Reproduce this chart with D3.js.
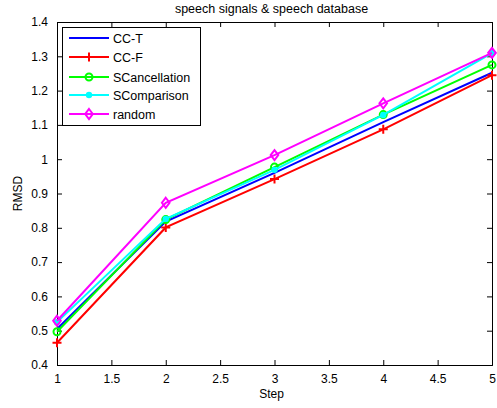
<!DOCTYPE html>
<html><head><meta charset="utf-8">
<script src="https://cdn.jsdelivr.net/npm/d3@7"></script>
<style>body{margin:0;background:#fff;} text{font-family:"Liberation Sans",Arial,sans-serif;}</style>
</head><body><svg id="c" width="497" height="408"></svg>
<script>
const steps = [1, 2, 3, 4, 5];
const ccT = [0.505, 0.818, 0.960, 1.108, 1.252];
const ccF = [0.465, 0.801, 0.942, 1.087, 1.245];
const sCancellation = [0.497, 0.824, 0.977, 1.130, 1.275];
const sComparison = [0.525, 0.826, 0.969, 1.129, 1.309];
const random = [0.529, 0.873, 1.012, 1.163, 1.310];
const xTicks = [1, 1.5, 2, 2.5, 3, 3.5, 4, 4.5, 5];
const yTicks = [0.4, 0.5, 0.6, 0.7, 0.8, 0.9, 1, 1.1, 1.2, 1.3, 1.4];
const seriesNames = ["CC-T", "CC-F", "SCancellation", "SComparison", "random"];
const colors = ["#0000ff", "#ff0000", "#00ff00", "#00ffff", "#ff00ff"];
const markers = ["none", "plus", "circle", "dot", "diamond"];
const series = [ccT, ccF, sCancellation, sComparison, random];

const svg = d3.select("#c");
const L = 57, R = 492, T = 22, B = 365;
const x = d3.scaleLinear().domain([1, 5]).range([L, R]);
const y = d3.scaleLinear().domain([0.4, 1.4]).range([B, T]);

svg.append("text").attr("x", (L + R) / 2 - 3).attr("y", 13).attr("text-anchor", "middle")
  .attr("font-size", 12.5).text("speech signals & speech database");

const fmt = d => String(d);
svg.append("g").attr("transform", `translate(0,${B})`)
  .call(d3.axisBottom(x).tickValues(xTicks).tickSize(-5).tickPadding(9).tickFormat(fmt));
svg.append("g").attr("transform", `translate(0,${T})`)
  .call(d3.axisTop(x).tickValues(xTicks).tickSize(-5).tickFormat(""));
svg.append("g").attr("transform", `translate(${L},0)`)
  .call(d3.axisLeft(y).tickValues(yTicks).tickSize(-5).tickPadding(9).tickFormat(fmt));
svg.append("g").attr("transform", `translate(${R},0)`)
  .call(d3.axisRight(y).tickValues(yTicks).tickSize(-5).tickFormat(""));
svg.selectAll(".domain").attr("stroke", "#000");
svg.selectAll(".tick line").attr("stroke", "#000");
svg.selectAll(".tick text").attr("font-size", 12).attr("fill", "#000")
  .style("font-family", "Liberation Sans, Arial, sans-serif");

svg.append("text").attr("x", (L + R) / 2 - 3).attr("y", 398).attr("text-anchor", "middle")
  .attr("font-size", 12).text("Step");
svg.append("text").attr("transform", `translate(22,${(T + B) / 2}) rotate(-90)`)
  .attr("text-anchor", "middle").attr("font-size", 12).text("RMSD");

function drawMarker(g, type, cx, cy, col) {
  if (type === "plus") {
    g.append("path").attr("d", `M${cx-4.5},${cy}H${cx+4.5}M${cx},${cy-4.5}V${cy+4.5}`)
      .attr("stroke", col).attr("stroke-width", 2).attr("fill", "none");
  } else if (type === "circle") {
    g.append("circle").attr("cx", cx).attr("cy", cy).attr("r", 3.5)
      .attr("stroke", col).attr("stroke-width", 2).attr("fill", "none");
  } else if (type === "dot") {
    g.append("circle").attr("cx", cx).attr("cy", cy).attr("r", 3.2)
      .attr("fill", col);
  } else if (type === "diamond") {
    g.append("path").attr("d", `M${cx},${cy-5}L${cx+3.8},${cy}L${cx},${cy+5}L${cx-3.8},${cy}Z`)
      .attr("stroke", col).attr("stroke-width", 2).attr("fill", "none");
  }
}

const line = d3.line().x((d, i) => x(steps[i])).y(d => y(d));
series.forEach((s, k) => {
  const g = svg.append("g");
  g.append("path").datum(s).attr("d", line).attr("fill", "none")
    .attr("stroke", colors[k]).attr("stroke-width", 2);
  s.forEach((v, i) => drawMarker(g, markers[k], x(steps[i]), y(v), colors[k]));
});

const lg = svg.append("g");
lg.append("rect").attr("x", 62.5).attr("y", 27.5).attr("width", 138).attr("height", 98)
  .attr("fill", "#fff").attr("stroke", "#000");
const ly = [38, 57, 77, 95, 114];
seriesNames.forEach((n, k) => {
  lg.append("line").attr("x1", 69).attr("x2", 109).attr("y1", ly[k]).attr("y2", ly[k])
    .attr("stroke", colors[k]).attr("stroke-width", 2);
  drawMarker(lg, markers[k], 89, ly[k], colors[k]);
  lg.append("text").attr("x", 113).attr("y", ly[k] + 4.5).attr("font-size", 12.5).text(n);
});
</script></body></html>
